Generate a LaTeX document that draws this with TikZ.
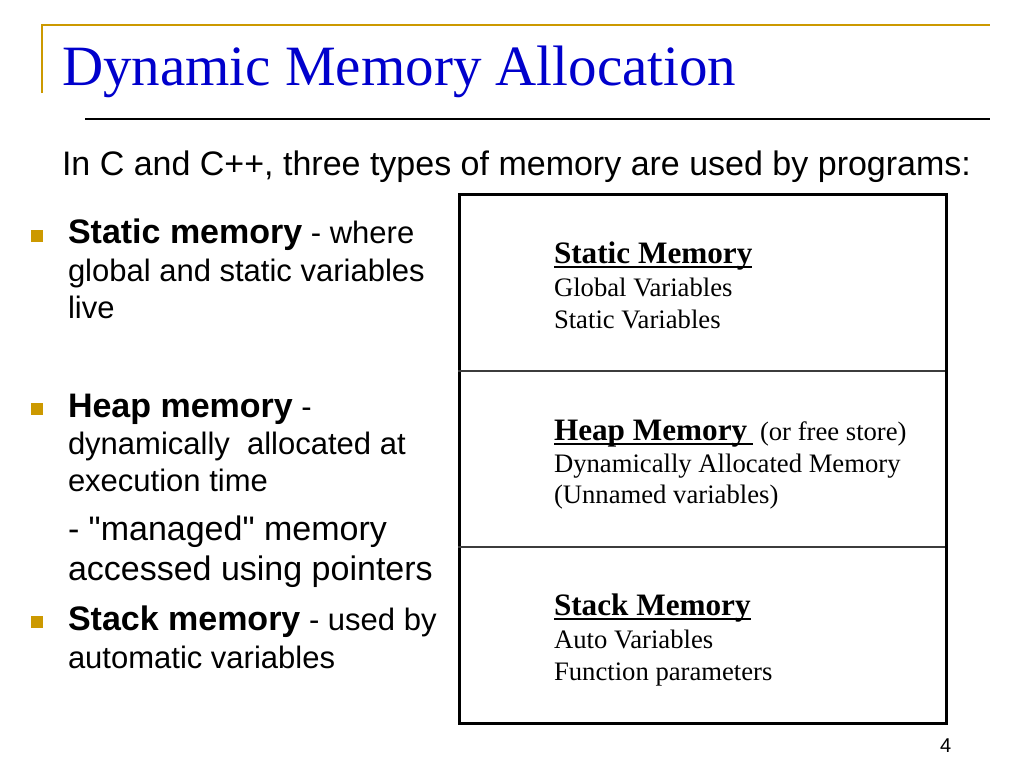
\documentclass[tikz,border=0pt]{standalone}
\usepackage{fontspec}
\setmainfont{Liberation Serif}
\setsansfont{Liberation Sans}
\definecolor{gold}{RGB}{204,153,0}
\definecolor{titleblue}{RGB}{0,0,204}
\definecolor{divgray}{RGB}{60,60,60}
\begin{document}
\begin{tikzpicture}[x=0.75pt,y=-0.75pt,
  txt/.style={inner sep=0pt, outer sep=0pt, anchor=base west},
  titletxt/.style={txt, text=titleblue, font=\fontsize{42.75}{50}\selectfont},
  subtxt/.style={txt, font=\sffamily\fontsize{25.5}{30}\selectfont},
  lvlone/.style={txt, font=\sffamily\fontsize{23.25}{28}\selectfont},
  lvltwo/.style={txt, font=\sffamily\fontsize{25.5}{30}\selectfont},
  bsq/.style={fill=gold, draw=none, minimum size=9pt, inner sep=0pt},
  boxhead/.style={txt, font=\bfseries\fontsize{23.4}{27}\selectfont},
  boxtxt/.style={txt, font=\fontsize{20}{24}\selectfont},
  uline/.style={line width=1.8pt},
  goldline/.style={draw=gold, line width=1.5pt},
]
\useasboundingbox[fill=white] (0,0) rectangle (1024,768);

% frame lines
\coordinate (g1) at (42,25);
\coordinate (g2) at (990,25);
\coordinate (g3) at (42,93);
\draw[goldline] (g3) -- (g1) -- (g2);
\coordinate (k1) at (85,119);
\coordinate (k2) at (990,119);
\draw[line width=1.1pt] (k1) -- (k2);

% title
\node[titletxt] (title) at (62,85) {Dynamic Memory Allocation};
\node[subtxt] (sub) at (62,175) {In C and C++, three types of memory are used by programs:};

% bullets
\node[bsq] (b1) at (37,235.5) {};
\node[lvlone] (t1a) at (68,243) {\fontsize{25.5}{30}\selectfont\bfseries Static memory\mdseries\fontsize{23.25}{28}\selectfont{} - where};
\node[lvlone] (t1b) at (68,281) {global and static variables};
\node[lvlone] (t1c) at (68,318) {live};

\node[bsq] (b2) at (37,409) {};
\node[lvlone] (t2a) at (68,417) {\fontsize{25.5}{30}\selectfont\bfseries Heap memory\mdseries\fontsize{23.25}{28}\selectfont{} -};
\node[lvlone] (t2b) at (68,454) {dynamically\ \ allocated at};
\node[lvlone] (t2c) at (68,491) {execution time};
\node[lvltwo] (t2d) at (68,540) {- \textquotedbl managed\textquotedbl{} memory};
\node[lvltwo] (t2e) at (68,580) {accessed using pointers};

\node[bsq] (b3) at (37,622) {};
\node[lvlone] (t3a) at (68,630) {\fontsize{25.5}{30}\selectfont\bfseries Stack memory\mdseries\fontsize{23.25}{28}\selectfont{} - used by};
\node[lvlone] (t3b) at (68,668) {automatic variables};

% memory box
\node[draw, line width=2.2pt, minimum width=365.25pt, minimum height=396.75pt, inner sep=0pt, anchor=north west] (box) at (458,193) {};
\coordinate (d1l) at (458,371);
\coordinate (d1r) at (945,371);
\coordinate (d2l) at (458,547);
\coordinate (d2r) at (945,547);
\draw[divgray, line width=1.4pt] (d1l) -- (d1r);
\draw[divgray, line width=1.4pt] (d2l) -- (d2r);

\node[boxhead] (sh) at (554,263) {Static Memory};
\draw[uline] ([yshift=-3pt]sh.base west) -- ([yshift=-3pt]sh.base east);
\node[boxtxt] (s1) at (554,296) {Global Variables};
\node[boxtxt] (s2) at (554,328) {Static Variables};

\node[boxhead] (hh) at (554,440) {Heap Memory};
\node[boxtxt] (hh2) at (760,440) {(or free store)};
\draw[uline] ([yshift=-3pt]hh.base west) -- ([yshift=-3pt,xshift=-5pt]hh2.base west);
\node[boxtxt] (h1) at (554,472) {Dynamically Allocated Memory};
\node[boxtxt] (h2) at (554,503) {(Unnamed variables)};

\node[boxhead] (kh) at (554,615) {Stack Memory};
\draw[uline] ([yshift=-3pt]kh.base west) -- ([yshift=-3pt]kh.base east);
\node[boxtxt] (k1t) at (554,648) {Auto Variables};
\node[boxtxt] (k2t) at (554,680) {Function parameters};

\node[txt, font=\sffamily\fontsize{15}{18}\selectfont] (pg) at (940,752) {4};
\end{tikzpicture}
\end{document}
